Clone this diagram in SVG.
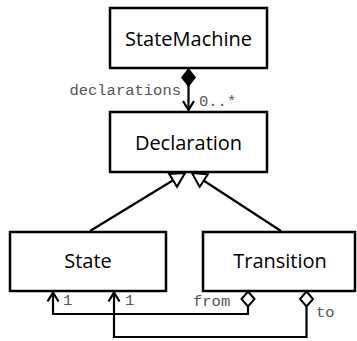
<svg xmlns="http://www.w3.org/2000/svg" width="357" height="341" viewBox="0 0 357 341">
<defs>
<style>
.box{fill:#fff;stroke:#000;stroke-width:2.5}
.name{font-family:"Open Sans","Liberation Sans",sans-serif;font-size:20px;fill:#000;text-anchor:middle}
.con{fill:none;stroke:#000;stroke-width:2.2}
.lbl{font-family:"Liberation Mono","Courier New",monospace;font-size:15.5px;fill:#555}
</style>
<marker id="comp" markerUnits="userSpaceOnUse" viewBox="-1 -9 20 18" refX="0" refY="0" markerWidth="20" markerHeight="18" orient="auto">
<path d="M0,0 L9,-7 L18,0 L9,7 Z" fill="#000" stroke="#000" stroke-width="1"/>
</marker>
<marker id="agg" markerUnits="userSpaceOnUse" viewBox="-2 -9 20 18" refX="0" refY="0" markerWidth="20" markerHeight="18" orient="auto">
<path d="M0,0 L7.5,-6.5 L15,0 L7.5,6.5 Z" fill="#fff" stroke="#000" stroke-width="2"/>
</marker>
<marker id="open" markerUnits="userSpaceOnUse" viewBox="-12 -8 14 16" refX="0" refY="0" markerWidth="14" markerHeight="16" orient="auto">
<path d="M-9,-5.5 L0,0 L-9,5.5" fill="none" stroke="#000" stroke-width="2.2"/>
</marker>
<marker id="gen" markerUnits="userSpaceOnUse" viewBox="-17 -10 20 20" refX="0" refY="0" markerWidth="20" markerHeight="20" orient="auto">
<path d="M0,0 L-14,-7.5 L-14,7.5 Z" fill="#fff" stroke="#000" stroke-width="2"/>
</marker>
</defs>
<g id="connectors">
<path class="con" d="M188.5,68.5 L188.5,110" marker-start="url(#comp)" marker-end="url(#open)"/>
<path class="con" d="M90,231 L185,173" marker-end="url(#gen)"/>
<path class="con" d="M281,231 L192,173" marker-end="url(#gen)"/>
<path class="con" d="M248,291.5 L248,314 L53,314 L53,292.5" marker-start="url(#agg)" marker-end="url(#open)"/>
<path class="con" d="M306.5,291.5 L306.5,337 L114,337 L114,292.5" marker-start="url(#agg)" marker-end="url(#open)"/>
<text class="lbl" x="181" y="95" text-anchor="end">declarations</text>
<text class="lbl" x="199" y="106">0..*</text>
<text class="lbl" x="63" y="305">1</text>
<text class="lbl" x="125" y="305">1</text>
<text class="lbl" x="193" y="306">from</text>
<text class="lbl" x="316" y="317">to</text>
</g>
<g id="StateMachine">
<rect class="box" x="110" y="8" width="157" height="60"/>
<text class="name" x="188.5" y="46">StateMachine</text>
</g>
<g id="Declaration">
<rect class="box" x="110" y="112" width="157" height="60"/>
<text class="name" x="188.5" y="150">Declaration</text>
</g>
<g id="State">
<rect class="box" x="10" y="232" width="156" height="59"/>
<text class="name" x="88" y="268">State</text>
</g>
<g id="Transition">
<rect class="box" x="203" y="232" width="152" height="59"/>
<text class="name" x="280" y="268">Transition</text>
</g>
</svg>
